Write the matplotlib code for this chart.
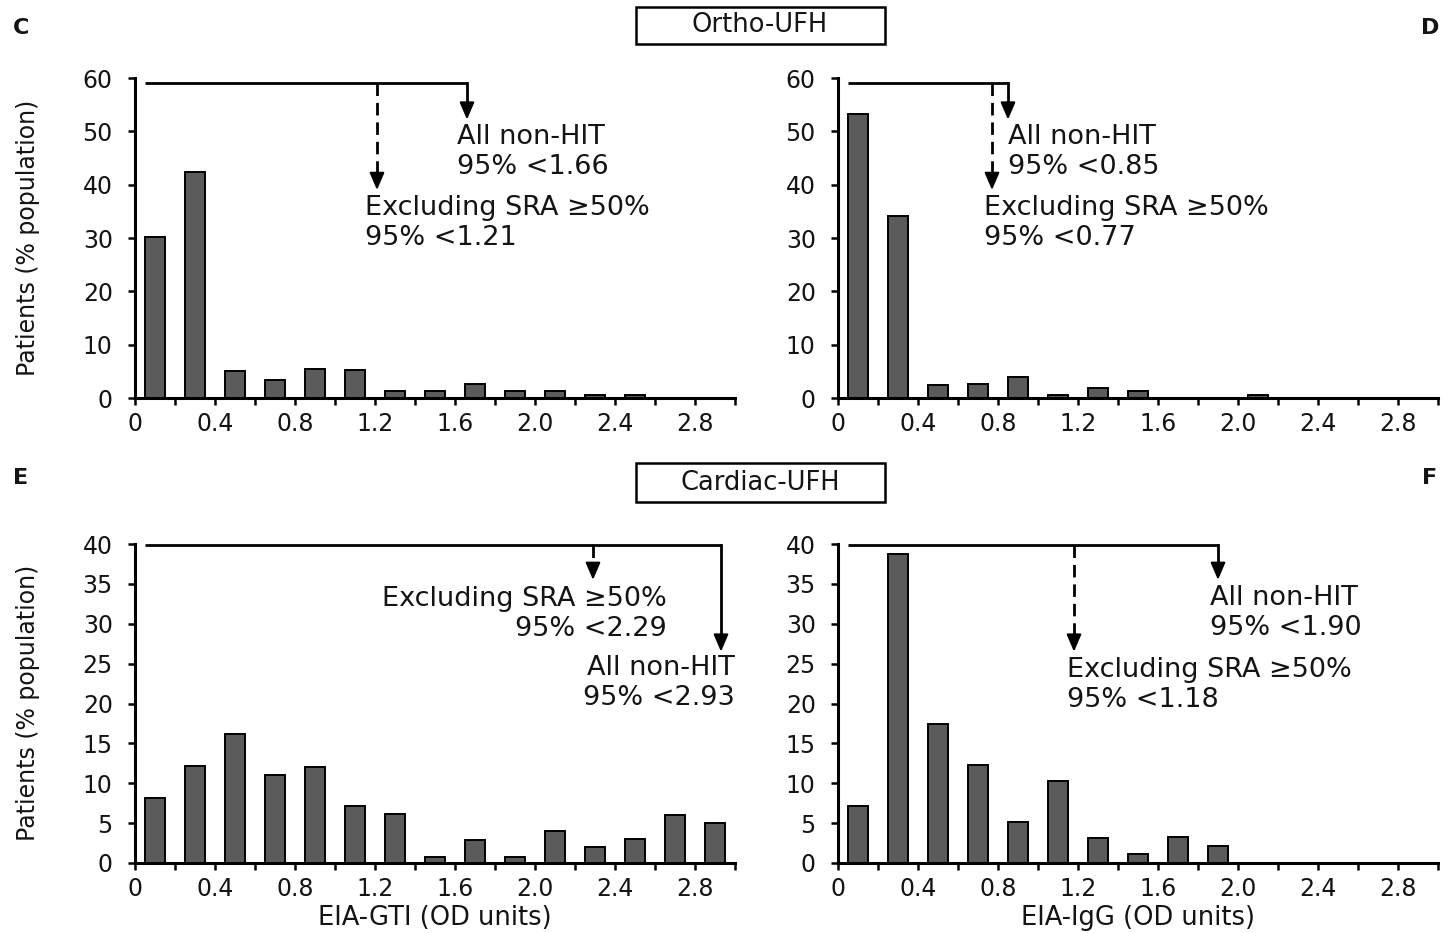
import numpy as np
import matplotlib
matplotlib.use("Agg")
import matplotlib.pyplot as plt
from matplotlib.ticker import MultipleLocator, FixedLocator, FixedFormatter

plt.rcParams['font.family'] = ['DejaVu Sans']

# Histogram bins (OD units), bin centres every 0.2
bin_centers = [0.1, 0.3, 0.5, 0.7, 0.9, 1.1, 1.3, 1.5, 1.7, 1.9, 2.1, 2.3, 2.5, 2.7, 2.9]
x_tick_labels = ["0", "0.4", "0.8", "1.2", "1.6", "2.0", "2.4", "2.8"]

# Percent of patients per bin
ortho_gti = [30.2, 42.4, 5.0, 3.4, 5.5, 5.3, 1.3, 1.3, 2.7, 1.3, 1.3, 0.6, 0.6, 0.0, 0.0]
ortho_igg = [53.3, 34.2, 2.4, 2.7, 3.9, 0.6, 1.9, 1.25, 0.0, 0.0, 0.6, 0.0, 0.0, 0.0, 0.0]
cardiac_gti = [8.1, 12.2, 16.2, 11.0, 12.1, 7.2, 6.2, 0.8, 2.9, 0.8, 4.0, 2.0, 3.0, 6.0, 5.0]
cardiac_igg = [7.2, 38.7, 17.4, 12.25, 5.1, 10.3, 3.1, 1.1, 3.2, 2.1, 0.0, 0.0, 0.0, 0.0, 0.0]

# 95th-percentile cut-offs: (all non-HIT, excluding SRA >= 50%)
ortho_gti_cut = (1.66, 1.21)
ortho_igg_cut = (0.85, 0.77)
cardiac_gti_cut = (2.93, 2.29)
cardiac_igg_cut = (1.90, 1.18)

W, H = 1445, 933
fig = plt.figure(figsize=(W / 100, H / 100), dpi=100)


def axes_px(x0, x1, ytop, ybot):
    return fig.add_axes([x0 / W, 1 - ybot / H, (x1 - x0) / W, (ybot - ytop) / H])


ax_c = axes_px(135, 735, 78, 398)
ax_d = axes_px(838, 1438, 78, 398)
ax_e = axes_px(135, 735, 544, 863)
ax_f = axes_px(838, 1438, 544, 863)

TICK_FS = 17
NOTE_FS = 19.5
TEXT_COLOR = "#141414"


def style_axes(ax, ymax, ystep):
    ax.set_xlim(0, 3.0)
    ax.set_ylim(0, ymax)
    for s in ("top", "right"):
        ax.spines[s].set_visible(False)
    for s in ("left", "bottom"):
        ax.spines[s].set_linewidth(2.2)
    ax.xaxis.set_major_locator(FixedLocator([0, 0.4, 0.8, 1.2, 1.6, 2.0, 2.4, 2.8]))
    ax.xaxis.set_major_formatter(FixedFormatter(x_tick_labels))
    ax.xaxis.set_minor_locator(FixedLocator([0.2, 0.6, 1.0, 1.4, 1.8, 2.2, 2.6, 3.0]))
    ax.yaxis.set_major_locator(MultipleLocator(ystep))
    ax.tick_params(axis="both", which="both", direction="out", length=5, width=1.8,
                   labelsize=TICK_FS, color="black", labelcolor=TEXT_COLOR)
    ax.tick_params(axis="x", which="both", pad=5)
    ax.tick_params(axis="y", pad=11)
    ax.patch.set_alpha(0)


def draw_bars(ax, values):
    ax.bar(bin_centers, values, width=0.1, color="#5b5b5b", edgecolor="black",
           linewidth=1.4, zorder=2, clip_on=False)


def arrow_head(ax, x, tip, ymax):
    dy = ymax * 0.02
    ax.annotate("", xy=(x, tip), xytext=(x, tip + dy),
                arrowprops=dict(arrowstyle="-|>,head_length=0.7,head_width=0.3",
                                color="black", lw=1.5, shrinkA=0, shrinkB=0,
                                mutation_scale=15))


def cutoff_arrows(ax, y_line, x_all, tip_all, x_excl, tip_excl, ymax, x_start=0.05):
    # horizontal bracket from the axis out to the all-patients cut-off
    ax.plot([x_start, x_all], [y_line, y_line], color="black", lw=2.0,
            solid_capstyle="butt", zorder=3, clip_on=False)
    dy = ymax * 0.02
    # solid drop for all non-HIT patients
    ax.plot([x_all, x_all], [y_line, tip_all + dy], color="black", lw=2.0, zorder=3,
            clip_on=False)
    arrow_head(ax, x_all, tip_all, ymax)
    # dashed drop for patients excluding SRA >= 50%
    ax.plot([x_excl, x_excl], [y_line, tip_excl + dy], color="black", lw=2.0,
            linestyle=(0, (4.5, 2.5)), zorder=3, clip_on=False)
    arrow_head(ax, x_excl, tip_excl, ymax)


def note(ax, x, y, s, ha="left"):
    ax.text(x, y, s, fontsize=NOTE_FS, ha=ha, va="center", color=TEXT_COLOR)


# Panel C
style_axes(ax_c, 60, 10)
draw_bars(ax_c, ortho_gti)
cutoff_arrows(ax_c, 59.1, ortho_gti_cut[0], 52.2, ortho_gti_cut[1], 39.0, 60)
note(ax_c, 1.61, 48.9, "All non-HIT")
note(ax_c, 1.61, 43.3, f"95% <{ortho_gti_cut[0]:.2f}")
note(ax_c, 1.15, 35.6, "Excluding SRA \u226550%")
note(ax_c, 1.15, 30.0, f"95% <{ortho_gti_cut[1]:.2f}")

# Panel D
style_axes(ax_d, 60, 10)
draw_bars(ax_d, ortho_igg)
cutoff_arrows(ax_d, 59.1, ortho_igg_cut[0], 52.2, ortho_igg_cut[1], 39.0, 60)
note(ax_d, 0.85, 48.9, "All non-HIT")
note(ax_d, 0.85, 43.3, f"95% <{ortho_igg_cut[0]:.2f}")
note(ax_d, 0.73, 35.6, "Excluding SRA \u226550%")
note(ax_d, 0.73, 30.0, f"95% <{ortho_igg_cut[1]:.2f}")

# Panel E
style_axes(ax_e, 40, 5)
draw_bars(ax_e, cardiac_gti)
cutoff_arrows(ax_e, 39.9, cardiac_gti_cut[0], 26.5, cardiac_gti_cut[1], 35.5, 40)
note(ax_e, 2.66, 33.1, "Excluding SRA \u226550%", ha="right")
note(ax_e, 2.66, 29.4, f"95% <{cardiac_gti_cut[1]:.2f}", ha="right")
note(ax_e, 3.0, 24.4, "All non-HIT", ha="right")
note(ax_e, 3.0, 20.7, f"95% <{cardiac_gti_cut[0]:.2f}", ha="right")
ax_e.set_xlabel("EIA-GTI (OD units)", fontsize=18.5, labelpad=3, color=TEXT_COLOR)

# Panel F
style_axes(ax_f, 40, 5)
draw_bars(ax_f, cardiac_igg)
cutoff_arrows(ax_f, 39.9, cardiac_igg_cut[0], 35.5, cardiac_igg_cut[1], 26.5, 40)
note(ax_f, 1.86, 33.2, "All non-HIT")
note(ax_f, 1.86, 29.5, f"95% <{cardiac_igg_cut[0]:.2f}")
note(ax_f, 1.145, 24.2, "Excluding SRA \u226550%")
note(ax_f, 1.145, 20.4, f"95% <{cardiac_igg_cut[1]:.2f}")
ax_f.set_xlabel("EIA-IgG (OD units)", fontsize=18.5, labelpad=3, color=TEXT_COLOR)

# Shared y-axis labels
for yc in (238, 703):
    fig.text(28 / W, 1 - yc / H, "Patients (% population)", rotation=90,
             ha="center", va="center", fontsize=17, color=TEXT_COLOR)

# Group titles in boxes
for ytop, ybot, title in ((7, 44, "Ortho-UFH"), (463, 502, "Cardiac-UFH")):
    fig.patches.append(plt.Rectangle((636 / W, 1 - ybot / H), 249 / W, (ybot - ytop) / H,
                                     transform=fig.transFigure, fill=False,
                                     edgecolor="black", linewidth=1.8))
    fig.text(760 / W, 1 - (ytop + ybot) / 2 / H, title, ha="center", va="center",
             fontsize=18.5, color=TEXT_COLOR)

# Panel letters
for x, y, s in ((21, 28, "C"), (1430, 28, "D"), (21, 478, "E"), (1430, 478, "F")):
    fig.text(x / W, 1 - y / H, s, ha="center", va="center", fontsize=16,
             fontweight="bold", color=TEXT_COLOR)

fig.savefig("out.png", dpi=100, facecolor="white")
